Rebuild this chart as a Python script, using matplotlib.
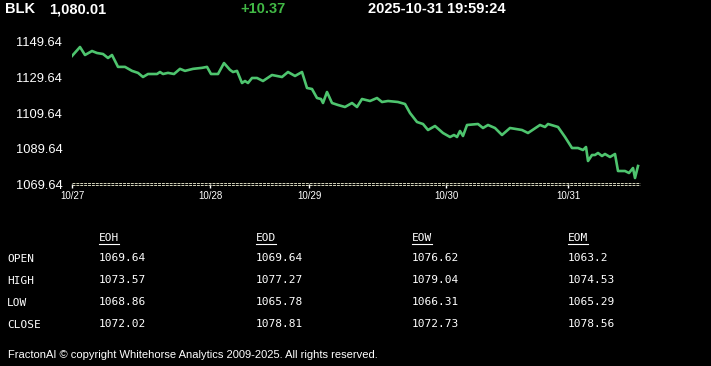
import matplotlib.pyplot as plt
from matplotlib.lines import Line2D
from matplotlib.transforms import offset_copy

# header quote
symbol = "BLK"
last_price = "1,080.01"
change = "+10.37"
stamp = "2025-10-31 19:59:24"

# price line: bar position along the time axis, price
t = [0, 8, 13, 20, 25, 31, 36, 40, 46, 53, 60, 66, 71, 76, 85, 88, 91, 96, 102,
     108, 113, 121, 130, 135, 139, 146, 152, 158, 161, 165, 170, 173, 176, 180,
     185, 191, 200, 210, 216, 223, 230, 235, 240, 245, 249, 251, 255, 260, 266,
     273, 280, 285, 290, 298, 305, 310, 316, 326, 333, 338, 345, 351, 356, 363,
     371, 378, 382, 385, 388, 391, 395, 406, 411, 416, 423, 430, 438, 450, 456,
     468, 473, 476, 486, 493, 500, 506, 511, 514, 516, 520, 523, 526, 530, 533,
     538, 543, 546, 553, 557, 561, 563, 566]
price = [1141.62, 1146.67, 1142.18, 1144.42, 1143.30, 1142.74, 1140.50, 1142.18,
         1135.51, 1135.51, 1133.27, 1132.15, 1129.84, 1131.52, 1131.52, 1132.64,
         1131.52, 1132.15, 1131.52, 1134.40, 1133.27, 1134.40, 1134.97, 1135.51,
         1131.52, 1131.52, 1137.66, 1133.83, 1132.64, 1133.27, 1126.47, 1127.59,
         1126.47, 1129.28, 1129.28, 1127.59, 1130.96, 1129.84, 1132.64, 1130.41,
         1132.64, 1123.67, 1123.10, 1118.05, 1117.49, 1115.25, 1121.42, 1115.25,
         1114.13, 1113.01, 1115.25, 1113.01, 1117.49, 1116.37, 1118.05, 1115.81,
         1116.37, 1115.81, 1114.69, 1109.64, 1104.59, 1103.47, 1100.10, 1102.35,
         1098.42, 1096.18, 1097.30, 1096.18, 1099.54, 1096.74, 1102.91, 1103.47,
         1101.22, 1102.91, 1101.22, 1097.30, 1101.22, 1100.10, 1098.42, 1102.91,
         1101.79, 1103.47, 1101.79, 1096.18, 1090.00, 1090.00, 1088.88, 1090.56,
         1082.71, 1086.08, 1086.08, 1087.20, 1085.52, 1086.64, 1084.96, 1086.64,
         1077.10, 1077.10, 1075.98, 1078.78, 1073.17, 1079.91]

day_pos = [0, 138, 237, 374, 496]
day_labels = ["10/27", "10/28", "10/29", "10/30", "10/31"]
price_ticks = [1069.64, 1089.64, 1109.64, 1129.64, 1149.64]

# summary table
cols = ["EOH", "EOD", "EOW", "EOM"]
rows = ["OPEN", "HIGH", "LOW", "CLOSE"]
eoh = [1069.64, 1073.57, 1068.86, 1072.02]
eod = [1069.64, 1077.27, 1065.78, 1078.81]
eow = [1076.62, 1079.04, 1066.31, 1072.73]
eom = [1063.2, 1074.53, 1065.29, 1078.56]

footer = "FractonAI \u00a9 copyright Whitehorse Analytics 2009-2025. All rights reserved."

W, H = 711, 366
def fx(px):
    return px / W
def fy(py):
    return 1 - py / H

plt.rcParams['font.family'] = ['Liberation Sans', 'DejaVu Sans']
mono = 'DejaVu Sans Mono'

fig = plt.figure(figsize=(W / 100, H / 100), dpi=100, facecolor='black')

# chart area
ax = fig.add_axes([fx(72), fy(184.3), 568 / W, (184.3 - 30) / H])
ax.set_facecolor('black')
ax.plot(t, price, color='#4ec46e', lw=1.9, solid_joinstyle='round')
ax.set_xlim(0, 568)
ax.set_ylim(1069.64, 1069.64 + (184.3 - 30) / 1.7825)
ax.set_yticks(price_ticks, [f"{v:.2f}" for v in price_ticks])
ax.set_xticks(day_pos, day_labels)
for s in ax.spines.values():
    s.set_visible(False)
ax.tick_params(axis='y', length=0, pad=7, labelsize=9.3, labelcolor='white')
ax.tick_params(axis='x', length=3, width=1, color='white', pad=1.5,
               labelsize=7, labelcolor='white')

# double dashed baseline
for dy in (0.9, -0.6):
    tr = offset_copy(ax.transAxes, fig=fig, y=dy, units='points')
    ax.plot([0, 1], [0, 0], transform=tr, color='#d6d6bc', lw=0.7,
            ls=(0, (3, 1)), clip_on=False)

# header
hy = fy(9)
fig.text(fx(5), hy, symbol, color='white', fontsize=10.5, fontweight='bold', va='center')
fig.text(fx(49), hy, last_price, color='white', fontsize=10.5, fontweight='bold', va='center')
fig.text(fx(240), hy, change, color='#41b845', fontsize=10.5, fontweight='bold', va='center')
fig.text(fx(368), hy, stamp, color='white', fontsize=10.5, fontweight='bold', va='center')

# table
col_x = [99, 256, 412, 568]
row_y = [258, 280, 302, 324]
heads = []
for cx, name, vals in zip(col_x, cols, [eoh, eod, eow, eom]):
    heads.append(fig.text(fx(cx), fy(238), name, color='white', family=mono,
                          fontsize=8, va='center'))
    for ry, v in zip(row_y, vals):
        fig.text(fx(cx), fy(ry), f"{v}", color='white', family=mono,
                 fontsize=8, va='center')
for ry, name in zip(row_y, rows):
    fig.text(fx(7), fy(ry + 1), name, color='white', family=mono,
             fontsize=8, va='center')

fig.text(fx(8), fy(355), footer, color='white', fontsize=8, va='center')

# underline the column heads
fig.canvas.draw()
r = fig.canvas.get_renderer()
for h in heads:
    bb = h.get_window_extent(r)
    y = fy(243.5)
    fig.add_artist(Line2D([bb.x0 / W, bb.x1 / W], [y, y], color='white', lw=0.8))

fig.savefig('out.png', dpi=100, facecolor='black')
